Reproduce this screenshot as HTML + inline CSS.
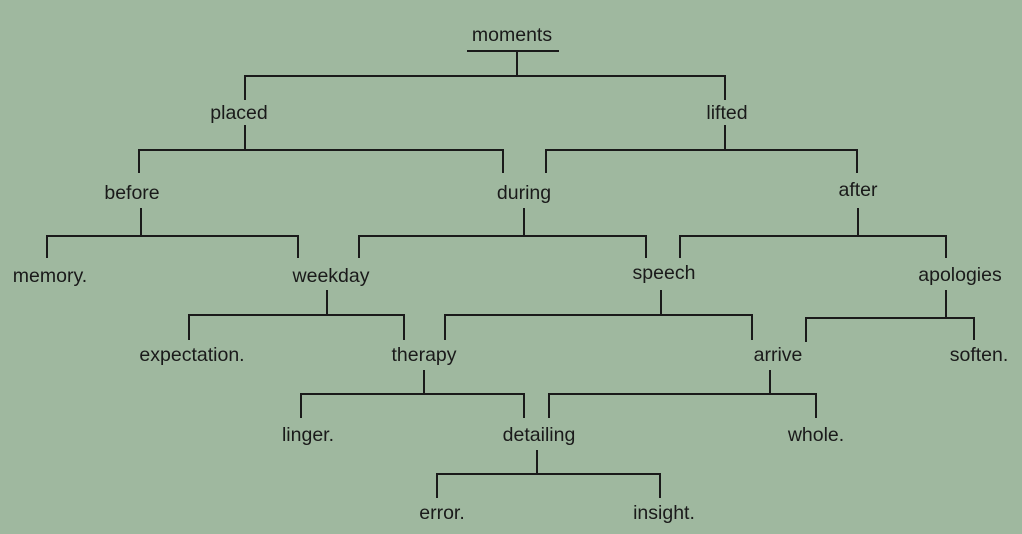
<!DOCTYPE html>
<html><head><style>
html,body{margin:0;padding:0;background:#9fb89f;}
svg{display:block}
text{font-family:"Liberation Sans",sans-serif;font-size:19.5px;fill:#1a1a1a;text-anchor:middle}
</style></head><body>
<svg width="1022" height="534" viewBox="0 0 1022 534">
<rect width="1022" height="534" fill="#9fb89f"/>
<g stroke="#1a1a1a" stroke-width="2" fill="none">
<path d="M467 51H559M517 51V76M245 100V76H725V100"/>
<path d="M245 125V150M139 173V150H503V173"/>
<path d="M725 125V150M546 173V150H857V173"/>
<path d="M141 208V236M47 258V236H298V258"/>
<path d="M524 208V236M359 258V236H646V258"/>
<path d="M858 208V236M680 258V236H946V258"/>
<path d="M327 290V315M189 340V315H404V340"/>
<path d="M661 290V315M445 340V315H752V340"/>
<path d="M946 290V317M806 342V318H974V340"/>
<path d="M424 370V394M301 418V394H524V418"/>
<path d="M770 370V393M549 418V394H816V418"/>
<path d="M537 450V474M437 498V474H660V498"/>
</g>
<text x="512" y="41">moments</text>
<text x="239" y="119">placed</text>
<text x="727" y="119">lifted</text>
<text x="132" y="199">before</text>
<text x="524" y="199">during</text>
<text x="858" y="196">after</text>
<text x="50" y="282">memory.</text>
<text x="331" y="282">weekday</text>
<text x="664" y="279">speech</text>
<text x="960" y="281">apologies</text>
<text x="192" y="361">expectation.</text>
<text x="424" y="361">therapy</text>
<text x="778" y="361">arrive</text>
<text x="979" y="361">soften.</text>
<text x="308" y="441">linger.</text>
<text x="539" y="441">detailing</text>
<text x="816" y="441">whole.</text>
<text x="442" y="519">error.</text>
<text x="664" y="519">insight.</text>
</svg>
</body></html>
